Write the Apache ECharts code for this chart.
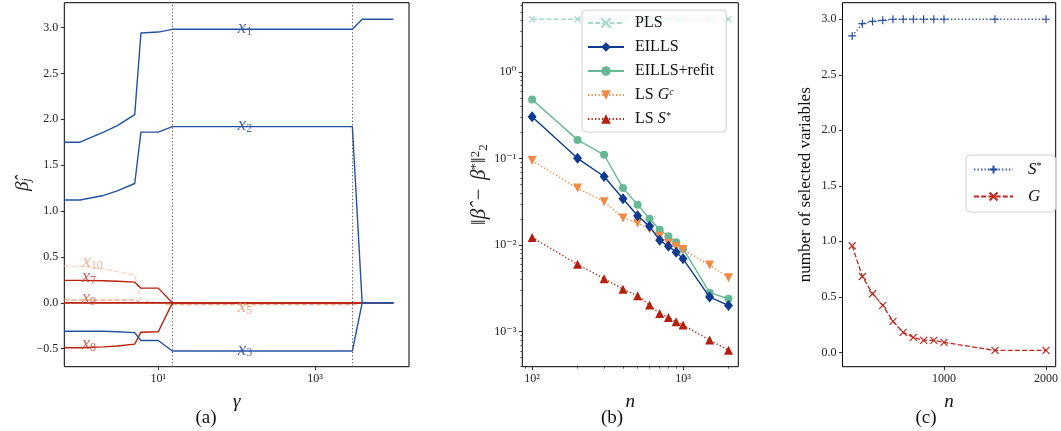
<!DOCTYPE html>
<html><head><meta charset="utf-8">
<script src="https://cdn.jsdelivr.net/npm/echarts@6/dist/echarts.min.js"></script>
<style>html,body{margin:0;padding:0;background:#fff}#c{width:1061px;height:431px}</style>
</head><body><div id="c"></div>
<script>
// ---------- Panel (a): coefficient paths vs gamma ----------
const gamma   = [0.631, 1, 2, 3, 5, 6, 10, 15.1, 3000, 4000, 10000];
const beta_x1 = [1.75, 1.75, 1.86, 1.93, 2.05, 2.94, 2.95, 2.98, 2.98, 3.09, 3.09];
const beta_x2 = [1.12, 1.12, 1.17, 1.22, 1.30, 1.86, 1.86, 1.92, 1.92, 0, 0];
const beta_x3 = [-0.31, -0.31, -0.31, -0.315, -0.325, -0.41, -0.41, -0.525, -0.525, 0, 0];
const beta_x4 = [0, 0, 0, 0, 0, 0, 0, 0, 0, 0, 0];
const beta_x6 = [0, 0, 0, 0, 0, 0, 0, 0, 0, 0, 0];
const beta_x7 = [0.245, 0.245, 0.24, 0.235, 0.225, 0.16, 0.16, 0, 0, 0, 0];
const beta_x8 = [-0.49, -0.49, -0.48, -0.47, -0.45, -0.32, -0.315, 0, 0, 0, 0];
const beta_x5 = [0, 0, 0, 0, 0, 0, 0, -0.02, -0.02, 0, 0];
const beta_x9 = [0.03, 0.03, 0.03, 0.03, 0.03, 0, 0, 0, 0, 0, 0];
const beta_x10 = [0.40, 0.40, 0.37, 0.34, 0.30, 0.03, 0, 0, 0, 0, 0];
const gammaCuts = [15.1, 3000];
const pathLabelNames = ['x1', 'x2', 'x3', 'x5', 'x10', 'x7', 'x9', 'x8'];
const pathLabelGamma = [128, 128, 128, 128, 1.45, 1.3, 1.3, 1.3];
const pathLabelBeta  = [2.99, 1.93, -0.515, -0.055, 0.44, 0.275, 0.045, -0.455];
const yTicksA = [-0.5, 0, 0.5, 1, 1.5, 2, 2.5, 3];
const xTicksA = [10, 1000];

// ---------- Panel (b): estimation error vs n ----------
const nB = [100, 200, 300, 400, 500, 600, 700, 800, 900, 1000, 1500, 2000];
const errPLS   = [4.1, 4.1, 4.1, 4.1, 4.1, 4.1, 4.1, 4.1, 4.1, 4.1, 4.1, 4.1];
const errEILLS = [0.305, 0.101, 0.0622, 0.0344, 0.0219, 0.0165, 0.0114, 0.0097, 0.0083, 0.00695, 0.00251, 0.00201];
const errRefit = [0.484, 0.165, 0.111, 0.0457, 0.0294, 0.0202, 0.0151, 0.0127, 0.0108, 0.0091, 0.00282, 0.0024];
const errLSGc  = [0.095, 0.0457, 0.0318, 0.0206, 0.0181, 0.0154, 0.0127, 0.0105, 0.0096, 0.0089, 0.0059, 0.0042];
const errLSS   = [0.0123, 0.006, 0.0041, 0.0031, 0.0026, 0.00203, 0.00162, 0.00146, 0.0013, 0.00119, 0.0008, 0.00061];
const xMajorB = [100, 1000];
const xMinorB = [90, 200, 300, 400, 500, 600, 700, 800, 900, 2000];
const yMajorB = [0.001, 0.01, 0.1, 1];
const yMinorB = [0.0004, 0.0005, 0.0006, 0.0007, 0.0008, 0.0009,
                 0.002, 0.003, 0.004, 0.005, 0.006, 0.007, 0.008, 0.009,
                 0.02, 0.03, 0.04, 0.05, 0.06, 0.07, 0.08, 0.09,
                 0.2, 0.3, 0.4, 0.5, 0.6, 0.7, 0.8, 0.9,
                 2, 3, 4, 5, 6];

// ---------- Panel (c): number of selected variables ----------
const nC = [100, 200, 300, 400, 500, 600, 700, 800, 900, 1000, 1500, 2000];
const selS = [2.85, 2.96, 2.98, 2.99, 3.0, 3.0, 3.0, 3.0, 3.0, 3.0, 3.0, 3.0];
const selG = [0.96, 0.683, 0.528, 0.423, 0.279, 0.18, 0.135, 0.108, 0.108, 0.09, 0.018, 0.018];
const xTicksC = [1000, 2000];
const yTicksC = [0, 0.5, 1, 1.5, 2, 2.5, 3];

// ---------- styling ----------
const FONT = '"Liberation Serif","DejaVu Serif",serif';
const BLUE = '#2452a2', RED = '#b8220e', ORANGE = '#f3a07a', PEACH = '#fbcfb4';
const cEILLS = '#0c3b91', cRefit = '#67b995', cGc = '#f08a45', cS = '#b3200e', cPLS = '#a7dacd';
const cSelS = '#2a4fa3', cSelG = '#c0271a';
const DOT = [1.3, 2.2], DASH = [5, 2.2];
const SYM_X = 'path://M0,0L10,10M10,0L0,10';
const SYM_P = 'path://M5,0L5,10M0,5L10,5';
const supMap = {'-': '\u207B', '0': '\u2070', '1': '\u00B9', '2': '\u00B2', '3': '\u00B3'};
const pow10Label = v => '10' + String(Math.round(Math.log10(v))).split('').map(ch => supMap[ch]).join('');
const decLabel = v => (v < 0 ? '\u2212' : '') + Math.abs(v).toFixed(1);
const tickLabel = {fontFamily: FONT, fontSize: 12, color: '#222', margin: 6};
const tick = {show: true, inside: false, length: 3.5, lineStyle: {color: '#000', width: 0.8}};
const minorTick = {show: true, inside: false, length: 2, lineStyle: {color: '#000', width: 0.6}};
const noLine = {show: false, onZero: false};

const chart = echarts.init(document.getElementById('c'), null, {renderer: 'canvas'});

const zip = (xs, ys) => xs.map((x, i) => [x, ys[i]]);

const pathSeries = (name, ys, color, dash, opacity) => ({
  name, type: 'line', xAxisIndex: 0, yAxisIndex: 0, data: zip(gamma, ys),
  showSymbol: false, symbol: 'none', silent: true,
  lineStyle: {color, width: 1.4, type: dash || 'solid', opacity: opacity == null ? 1 : opacity},
  z: 3
});

const labelColors = {x1: BLUE, x2: BLUE, x3: BLUE, x5: '#f0945f', x10: '#f5a57c', x7: '#c9493a', x9: '#d05a48', x8: '#c9493a'};
const labelRich = {
  x: {fontFamily: FONT, fontStyle: 'italic', fontSize: 19, lineHeight: 18, verticalAlign: 'bottom'},
  s: {fontFamily: FONT, fontSize: 12, lineHeight: 12, verticalAlign: 'bottom'}
};

const option = {
  animation: false,
  backgroundColor: '#fff',
  grid: [
    {left: 64.3, top: 2.7, width: 344.7, height: 364, show: true, borderColor: '#000', borderWidth: 1, backgroundColor: 'transparent'},
    {left: 522.3, top: 2.7, width: 216, height: 364, show: true, borderColor: '#000', borderWidth: 1, backgroundColor: 'transparent'},
    {left: 842.5, top: 2.7, width: 220.8, height: 364, show: true, borderColor: '#000', borderWidth: 1, backgroundColor: 'transparent'}
  ],
  xAxis: [
    {type: 'log', logBase: 10, gridIndex: 0, position: 'bottom', min: 0.631, max: 15849, splitLine: {show: false},
     axisLine: noLine, axisTick: Object.assign({customValues: xTicksA}, tick),
     axisLabel: Object.assign({customValues: xTicksA, formatter: pow10Label}, tickLabel),
     name: '\u03B3', nameLocation: 'middle', nameGap: 26,
     nameTextStyle: {fontFamily: FONT, fontStyle: 'italic', fontSize: 19, color: '#111'}},
    {type: 'log', logBase: 10, gridIndex: 1, position: 'bottom', min: 86.1, max: 2323, splitLine: {show: false},
     axisLine: noLine, axisTick: Object.assign({customValues: xMajorB}, tick),
     axisLabel: Object.assign({customValues: xMajorB, formatter: pow10Label}, tickLabel),
     name: 'n', nameLocation: 'middle', nameGap: 26,
     nameTextStyle: {fontFamily: FONT, fontStyle: 'italic', fontSize: 19, color: '#111'}},
    {type: 'log', logBase: 10, gridIndex: 1, position: 'bottom', min: 86.1, max: 2323, splitLine: {show: false},
     axisLine: noLine, axisTick: Object.assign({customValues: xMinorB}, minorTick),
     axisLabel: {show: false}},
    {type: 'value', gridIndex: 2, position: 'bottom', min: 5, max: 2095, splitLine: {show: false},
     axisLine: noLine, axisTick: Object.assign({customValues: xTicksC}, tick),
     axisLabel: Object.assign({customValues: xTicksC, formatter: v => String(v)}, tickLabel),
     name: 'n', nameLocation: 'middle', nameGap: 26,
     nameTextStyle: {fontFamily: FONT, fontStyle: 'italic', fontSize: 19, color: '#111'}}
  ],
  yAxis: [
    {type: 'value', gridIndex: 0, position: 'left', min: -0.696, max: 3.27, splitLine: {show: false},
     axisLine: noLine, axisTick: Object.assign({customValues: yTicksA}, tick),
     axisLabel: Object.assign({customValues: yTicksA, formatter: decLabel}, tickLabel),
     name: '{b|\u03B2\u0302}{s|j}', nameLocation: 'middle', nameGap: 30,
     nameTextStyle: {color: '#222', rich: {
       b: {fontFamily: FONT, fontStyle: 'italic', fontSize: 19, color: '#222'},
       s: {fontFamily: FONT, fontStyle: 'italic', fontSize: 12, color: '#222', verticalAlign: 'bottom', padding: [6, 0, 0, 0]}}}},
    {type: 'log', logBase: 10, gridIndex: 1, position: 'left', min: 0.000393, max: 6.37, splitLine: {show: false},
     axisLine: noLine, axisTick: Object.assign({customValues: yMajorB}, tick),
     axisLabel: Object.assign({customValues: yMajorB, formatter: pow10Label}, tickLabel),
     name: '\u2016{i|\u03B2\u0302}\u2009\u2009\u2212\u2009\u2009{i|\u03B2}{p|*}\u2016{p|2}{q|2}', nameLocation: 'middle', nameGap: 30,
     nameTextStyle: {fontFamily: FONT, fontSize: 21, color: '#222', rich: {
       i: {fontFamily: FONT, fontStyle: 'italic', fontSize: 21, color: '#222'},
       p: {fontFamily: FONT, fontSize: 13, color: '#222', verticalAlign: 'top', padding: [0, 0, 7, 0]},
       q: {fontFamily: FONT, fontSize: 13, color: '#222', verticalAlign: 'bottom', padding: [7, 0, 0, 0]}}}},
    {type: 'log', logBase: 10, gridIndex: 1, position: 'left', min: 0.000393, max: 6.37, splitLine: {show: false},
     axisLine: noLine, axisTick: Object.assign({customValues: yMinorB}, minorTick),
     axisLabel: {show: false}},
    {type: 'value', gridIndex: 2, position: 'left', min: -0.129, max: 3.149, splitLine: {show: false},
     axisLine: noLine, axisTick: Object.assign({customValues: yTicksC}, tick),
     axisLabel: Object.assign({customValues: yTicksC, formatter: decLabel}, tickLabel),
     name: 'number of selected variables', nameLocation: 'middle', nameGap: 28,
     nameTextStyle: {fontFamily: FONT, fontSize: 17, color: '#111'}}
  ],
  legend: [
    {data: ['PLS', 'EILLS', 'EILLS+refit', 'LS Gc', 'LS S*'],
     left: 582, top: 10, orient: 'vertical', itemWidth: 36, itemHeight: 12, itemGap: 8,
     padding: [5, 12, 5, 5], backgroundColor: 'rgba(255,255,255,0.8)', borderColor: '#d0d0d0', borderWidth: 1, borderRadius: 4,
     textStyle: {fontFamily: FONT, fontSize: 16, color: '#111', rich: {
       g: {width: 6}, i: {fontFamily: FONT, fontStyle: 'italic', fontSize: 16, color: '#111'},
       p: {fontFamily: FONT, fontStyle: 'italic', fontSize: 10, color: '#111', verticalAlign: 'top', padding: [0, 0, 6, 0]}}},
     formatter: nm => ({'PLS': '{g|}PLS', 'EILLS': '{g|}EILLS', 'EILLS+refit': '{g|}EILLS+refit',
                        'LS Gc': '{g|}LS {i|G}{p|c}', 'LS S*': '{g|}LS {i|S}{p|*}'})[nm]},
    {data: ['S*', 'G'],
     left: 966, top: 155, orient: 'vertical', itemWidth: 39, itemHeight: 10, itemGap: 10,
     padding: [6, 14, 7, 7], backgroundColor: 'rgba(255,255,255,0.8)', borderColor: '#d0d0d0', borderWidth: 1, borderRadius: 4,
     textStyle: {fontFamily: FONT, fontSize: 17, color: '#111', rich: {
       g: {width: 10}, i: {fontFamily: FONT, fontStyle: 'italic', fontSize: 17, color: '#111'},
       p: {fontFamily: FONT, fontSize: 10, color: '#111', verticalAlign: 'top', padding: [0, 0, 7, 0]}}},
     formatter: nm => ({'S*': '{g|}{i|S}{p|*}', 'G': '{g|}{i|G}'})[nm]}
  ],
  graphic: [
    {type: 'text', x: 206, y: 418, style: {text: '(a)', font: '19px ' + FONT, fill: '#111', align: 'center', verticalAlign: 'middle'}},
    {type: 'text', x: 612, y: 418, style: {text: '(b)', font: '19px ' + FONT, fill: '#111', align: 'center', verticalAlign: 'middle'}},
    {type: 'text', x: 926, y: 418, style: {text: '(c)', font: '19px ' + FONT, fill: '#111', align: 'center', verticalAlign: 'middle'}}
  ],
  series: [
    pathSeries('x10', beta_x10, PEACH, DASH, 0.9),
    pathSeries('x9', beta_x9, ORANGE, DASH, 0.9),
    pathSeries('x5', beta_x5, ORANGE, DASH, 0.9),
    pathSeries('x4', beta_x4, RED),
    pathSeries('x6', beta_x6, RED),
    pathSeries('x7', beta_x7, RED),
    pathSeries('x8', beta_x8, RED),
    pathSeries('x3', beta_x3, BLUE),
    pathSeries('x2', beta_x2, BLUE),
    Object.assign(pathSeries('x1', beta_x1, BLUE), {
      markLine: {symbol: 'none', silent: true, label: {show: false},
        lineStyle: {type: [1.2, 2.2], color: '#555', width: 1},
        data: gammaCuts.map(g => ({xAxis: g}))}
    }),
    {name: 'pathLabels', type: 'scatter', xAxisIndex: 0, yAxisIndex: 0, symbolSize: 0, silent: true, z: 5,
     data: pathLabelNames.map((nm, i) => ({name: nm, value: [pathLabelGamma[i], pathLabelBeta[i]],
       label: {color: labelColors[nm]}})),
     label: {show: true, position: 'inside', opacity: 0.85,
       formatter: p => '{x|x}{s|' + p.name.slice(1) + '}', rich: labelRich}},
    // panel (b)
    {name: 'PLS', type: 'line', xAxisIndex: 1, yAxisIndex: 1, data: zip(nB, errPLS),
     symbol: SYM_X, symbolSize: 6, lineStyle: {color: cPLS, width: 1.3, type: DASH},
     itemStyle: {color: cPLS, borderColor: cPLS, borderWidth: 1.1}, z: 2},
    {name: 'EILLS', type: 'line', xAxisIndex: 1, yAxisIndex: 1, data: zip(nB, errEILLS),
     symbol: 'diamond', symbolSize: [9, 11], lineStyle: {color: cEILLS, width: 1.4},
     itemStyle: {color: cEILLS}, z: 4},
    {name: 'EILLS+refit', type: 'line', xAxisIndex: 1, yAxisIndex: 1, data: zip(nB, errRefit),
     symbol: 'circle', symbolSize: 8, lineStyle: {color: cRefit, width: 1.4},
     itemStyle: {color: cRefit}, z: 3},
    {name: 'LS Gc', type: 'line', xAxisIndex: 1, yAxisIndex: 1, data: zip(nB, errLSGc),
     symbol: 'triangle', symbolRotate: 180, symbolSize: 9, lineStyle: {color: cGc, width: 1.4, type: DOT},
     itemStyle: {color: cGc}, z: 3},
    {name: 'LS S*', type: 'line', xAxisIndex: 1, yAxisIndex: 1, data: zip(nB, errLSS),
     symbol: 'triangle', symbolSize: 9, lineStyle: {color: cS, width: 1.4, type: DOT},
     itemStyle: {color: cS}, z: 3},
    // panel (c)
    {name: 'S*', type: 'line', xAxisIndex: 3, yAxisIndex: 3, data: zip(nC, selS),
     symbol: SYM_P, symbolSize: 8, lineStyle: {color: cSelS, width: 1.3, type: DOT},
     itemStyle: {color: cSelS, borderColor: cSelS, borderWidth: 1.2}},
    {name: 'G', type: 'line', xAxisIndex: 3, yAxisIndex: 3, data: zip(nC, selG),
     symbol: SYM_X, symbolSize: 7, lineStyle: {color: cSelG, width: 1.3, type: DASH},
     itemStyle: {color: cSelG, borderColor: cSelG, borderWidth: 1.2}}
  ]
};
chart.setOption(option);
</script></body></html>
